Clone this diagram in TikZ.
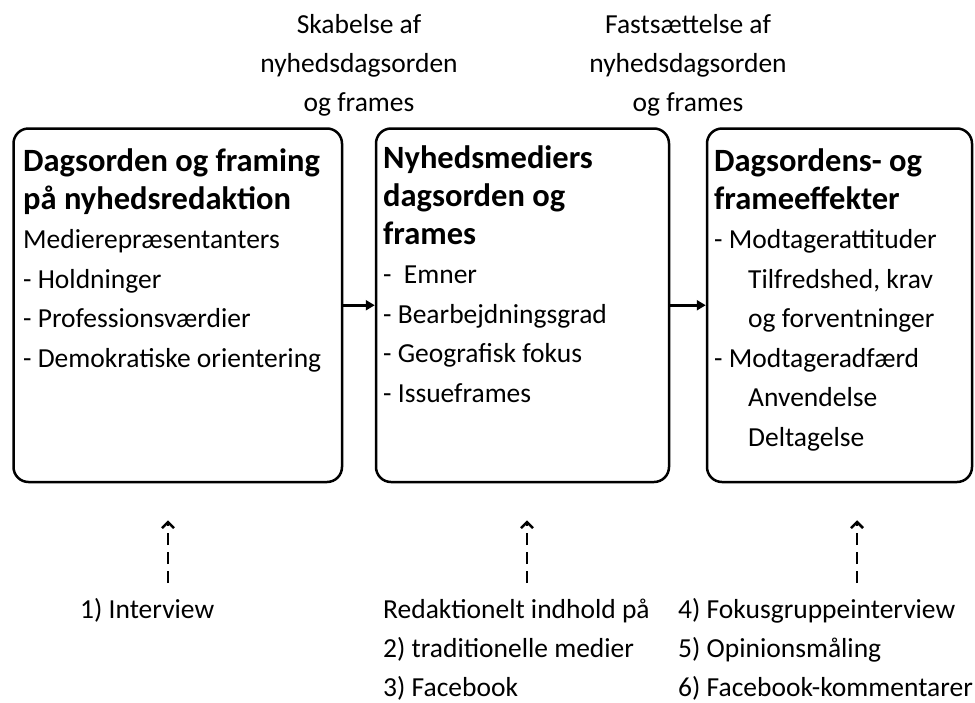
\documentclass[tikz,border=0pt]{standalone}
\usepackage{fontspec}
\setmainfont{Carlito}
\usetikzlibrary{arrows.meta}

\newcommand{\overskrift}[1]{{\fontsize{32.5}{38}\selectfont\bfseries #1\par}}

\tikzset{
  boks/.style={draw, line width=2.5pt, rounded corners=15pt, inner sep=0pt},
  tekst/.style={anchor=base west, inner sep=0pt, align=flush left, text width=#1,
    font=\fontsize{27.5}{39.5}\selectfont},
  etiket/.style={anchor=base, inner sep=0pt, align=flush center, text width=240pt,
    font=\fontsize{27.5}{39}\selectfont},
  pil/.style={-{Triangle[length=9pt,width=10pt]}, line width=3pt},
  metode/.style={-{Straight Barb[length=6pt,width=12pt]}, line width=2.5pt,
    dash pattern=on 12pt off 7pt, shorten >=37pt}
}

\begin{document}
\begin{tikzpicture}[x=1pt,y=-1pt] % Model for dagsorden og framing
  \useasboundingbox (0,0) rectangle (975,702);

  \node[boks, minimum width=328.5pt, minimum height=353.5pt] (redaktion) at (177.75,305.25) {};
  \node[boks, minimum width=293pt, minimum height=353.5pt] (medier) at (522.5,305.25) {};
  \node[boks, minimum width=265pt, minimum height=353.5pt] (effekter) at (839.5,305.25) {};

  \node[tekst=315pt] (redaktion-tekst) at (23,171) {\overskrift{Dagsorden og framing\\ på nyhedsredaktion}
    Medierepræsentanters\\ - Holdninger\\ - Professionsværdier\\ - Demokratiske orientering};
  \node[tekst=280pt] (medier-tekst) at (383,168) {\overskrift{Nyhedsmediers\\ dagsorden og\\ frames}
    -\hspace{0.45em}Emner\\ - Bearbejdningsgrad\\ - Geografisk fokus\\ - Issueframes};
  \node[tekst=255pt] (effekter-tekst) at (714,171) {\overskrift{Dagsordens- og\\ frameeffekter}
    - Modtagerattituder\\ \hspace*{34pt}Tilfredshed, krav\\ \hspace*{34pt}og forventninger\\
    - Modtageradfærd\\ \hspace*{34pt}Anvendelse\\ \hspace*{34pt}Deltagelse};

  \node[etiket] (skabelse) at (359,33) {Skabelse af\\ nyhedsdagsorden\\ og frames};
  \node[etiket] (fastsaettelse) at (688,33) {Fastsættelse af\\ nyhedsdagsorden\\ og frames};

  \draw[pil] (redaktion) -- (medier);
  \draw[pil] (medier) -- (effekter);

  \node[tekst=200pt] (interview) at (80,618) {1) Interview};
  \node[tekst=290pt] (indhold) at (383,618) {Redaktionelt indhold på\\[-0.5pt] 2) traditionelle medier\\[-0.5pt] 3) Facebook};
  \node[tekst=300pt] (modtagere) at (678,618) {4) Fokusgruppeinterview\\[-0.5pt] 5) Opinionsmåling\\[-0.5pt] 6) Facebook-kommentarer};

  \coordinate (kilde1) at (168,583);
  \coordinate (kilde2) at (527,583);
  \coordinate (kilde3) at (857,583);

  \draw[metode] (kilde1) -- (kilde1 |- redaktion.south);
  \draw[metode] (kilde2) -- (kilde2 |- medier.south);
  \draw[metode] (kilde3) -- (kilde3 |- effekter.south);
\end{tikzpicture}
\end{document}
